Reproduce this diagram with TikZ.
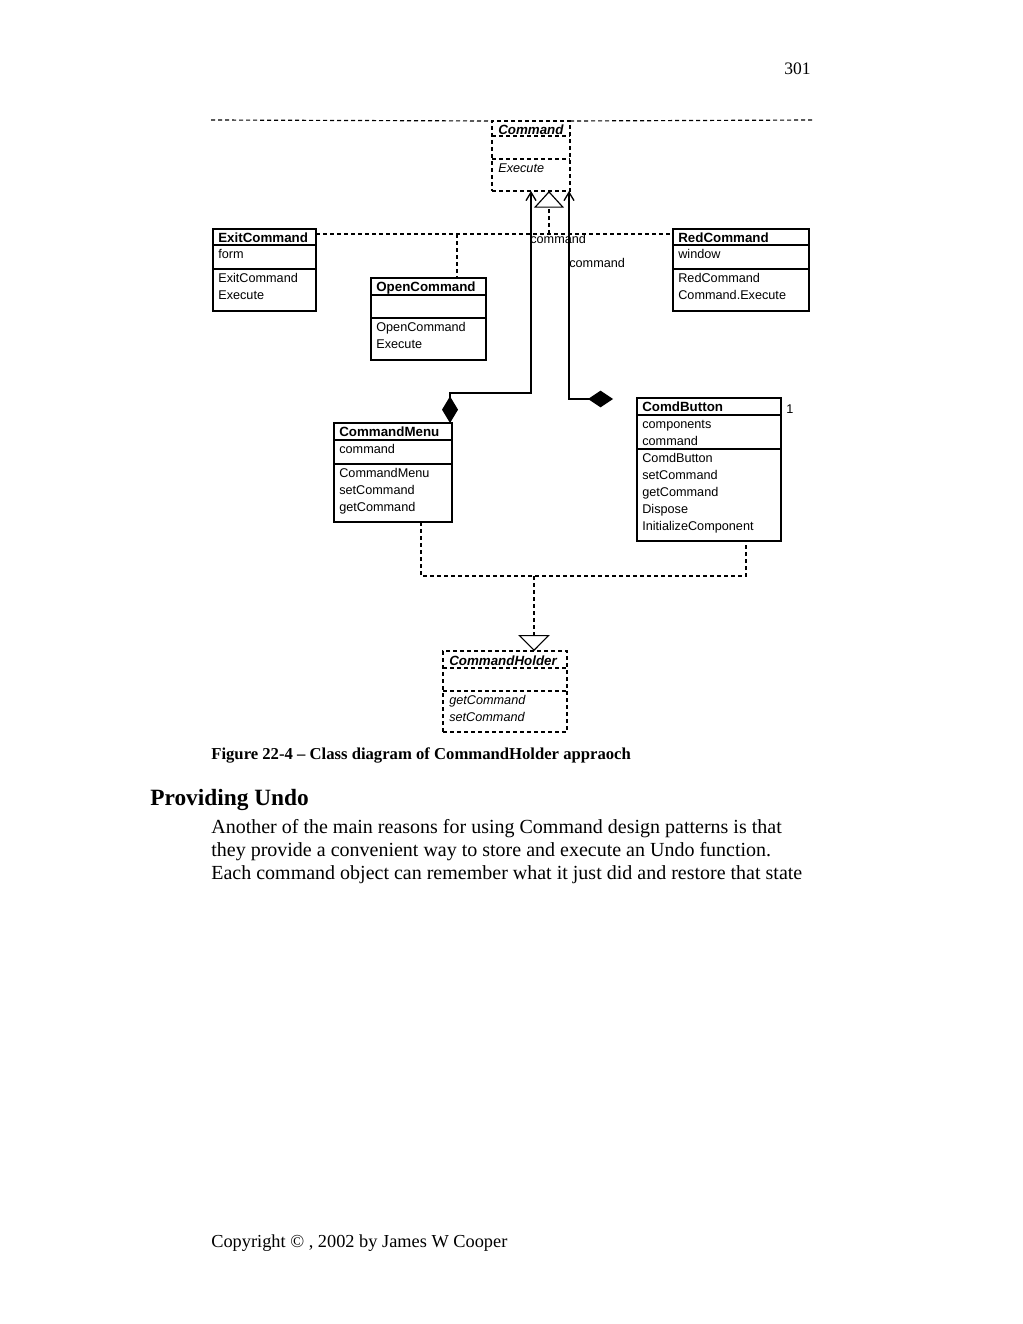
\documentclass[tikz,border=0pt]{standalone}
\usepackage{fontspec}
\setmainfont{Liberation Serif}
\newfontfamily\uml{Liberation Sans}
\usetikzlibrary{arrows.meta}
\newcommand\umlbox[8]{%
  \node[#8, minimum width=#4*0.6pt, minimum height=#5*0.6pt] (#1) at (#2,#3) {};
  \draw[#8] (#2,#6) -- ++(#4,0) (#2,#7) -- ++(#4,0);
}
\newcommand\umltext[5]{%
  \foreach \t [count=\i from 0] in {#5} {\node[#4] (#1\i) at (#2, #3+17*\i) {\t};}
}
\begin{document}
\begin{tikzpicture}[x=0.6pt,y=-0.6pt,
  box/.style={draw, line width=0.7pt, inner sep=0pt, outer sep=0pt, anchor=north west},
  dbox/.style={box, dash pattern=on 2.4pt off 1.8pt},
  dline/.style={line width=0.7pt, dash pattern=on 2.4pt off 1.8pt},
  sline/.style={line width=0.8pt},
  lbl/.style={font=\uml\fontsize{7.6}{10}\selectfont, anchor=base west, inner sep=0pt},
  ttl/.style={lbl, font=\uml\bfseries\fontsize{8}{10}\selectfont},
  ittl/.style={lbl, font=\uml\bfseries\itshape\fontsize{8}{10}\selectfont},
  ilbl/.style={lbl, font=\uml\itshape\fontsize{7.6}{10}\selectfont},
  gen/.style={-{Triangle[open,length=10pt,width=18pt]}},
  comp/.style={{Diamond[length=16pt,width=9.6pt]}-{Straight Barb[length=5pt,width=6pt]}},
  page/.style={anchor=base west, inner sep=0pt}
]
\useasboundingbox (0,0) rectangle (1023,1324);
\fill[white] (0,0) rectangle (1023,1324);

% classes
\umlbox{cmd}{492}{121}{78}{70}{136}{159}{dbox}
\umltext{cmdt}{498}{134}{ittl}{Command}
\umltext{cmdo}{498}{172}{ilbl}{Execute}

\umlbox{exit}{213}{229}{103}{82}{245}{269}{box}
\umltext{exitt}{218}{242}{ttl}{ExitCommand}
\umltext{exita}{218}{258}{lbl}{form}
\umltext{exito}{218}{282}{lbl}{ExitCommand,Execute}

\umlbox{open}{371}{278}{115}{82}{295}{318}{box}
\umltext{opent}{376}{291}{ttl}{OpenCommand}
\umltext{openo}{376}{331}{lbl}{OpenCommand,Execute}

\umlbox{red}{673}{229}{136}{82}{245}{269}{box}
\umltext{redt}{678}{242}{ttl}{RedCommand}
\umltext{reda}{678}{258}{lbl}{window}
\umltext{redo}{678}{282}{lbl}{RedCommand,Command.Execute}

\umlbox{cm}{334}{423}{118}{99}{440}{464}{box}
\umltext{cmt}{339}{436}{ttl}{CommandMenu}
\umltext{cma}{339}{453}{lbl}{command}
\umltext{cmo}{339}{477}{lbl}{CommandMenu,setCommand,getCommand}

\umlbox{cb}{637}{398}{144}{143}{415}{449}{box}
\umltext{cbt}{642}{411}{ttl}{ComdButton}
\umltext{cba}{642}{428}{lbl}{components,command}
\umltext{cbo}{642}{462}{lbl}{ComdButton,setCommand,getCommand,Dispose,InitializeComponent}

\umlbox{ch}{443}{651}{124}{81}{668}{691}{dbox}
\umltext{cht}{449}{665}{ittl}{CommandHolder}
\umltext{cho}{449}{704}{ilbl}{getCommand,setCommand}

% connectors
\coordinate (tlL) at (211,120);
\coordinate (tlR) at (812,120);
\draw[dline] (tlL) -- (cmd.north west);
\draw[dline] (cmd.north east) -- (tlR);

\draw[dline] ([yshift=-3pt]exit.north east) -- ([yshift=-3pt]red.north west);
\coordinate (gj) at (549,234);
\draw[dline, gen] (gj) -- (gj |- cmd.south);
\coordinate (oj) at (457,234);
\draw[dline] (oj) -- (oj |- open.north);

\coordinate (cmdia) at (450,423);
\coordinate (cmdL) at (531,191);
\draw[sline, comp] (cmdia) -- (450,393) -- (531,393) -- (cmdL);
\coordinate (cbdia) at (613,399);
\coordinate (cmdR) at (569,191);
\draw[sline, {Diamond[length=15pt,width=10pt]}-{Straight Barb[length=5pt,width=6pt]}] (cbdia) -- (569,399) -- (cmdR);

\coordinate (cmb) at (421,522);
\coordinate (cbb) at (746,541);
\draw[dline] (cmb) -- (421,576) -- (746,576) -- (cbb);
\coordinate (hj) at (534,576);
\draw[dline, -{Triangle[open,length=9.6pt,width=19pt]}] (hj) -- (hj |- ch.north);

\node[lbl] (lc1) at (530,243) {command};
\node[lbl] (lc2) at (569,267) {command};
\node[lbl] (mult) at (786,413) {1};

% page text
\node[anchor=base east, inner sep=0pt, font=\fontsize{10.5}{12}\selectfont] (pg) at (811,74) {301};
\node[page, font=\bfseries\fontsize{10}{12}\selectfont] (cap) at (211,759) {Figure 22-4 – Class diagram of CommandHolder appraoch};
\node[page, font=\bfseries\fontsize{14}{16}\selectfont] (hd) at (150,805) {Providing Undo};
\node[page, font=\fontsize{12}{14}\selectfont] (b1) at (211,833) {Another of the main reasons for using Command design patterns is that};
\node[page, font=\fontsize{12}{14}\selectfont] (b2) at (211,856) {they provide a convenient way to store and execute an Undo function.};
\node[page, font=\fontsize{12}{14}\selectfont] (b3) at (211,879) {Each command object can remember what it just did and restore that state};
\node[page, font=\fontsize{11}{13}\selectfont] (cr) at (211,1247) {Copyright © , 2002 by James W Cooper};
\end{tikzpicture}
\end{document}
